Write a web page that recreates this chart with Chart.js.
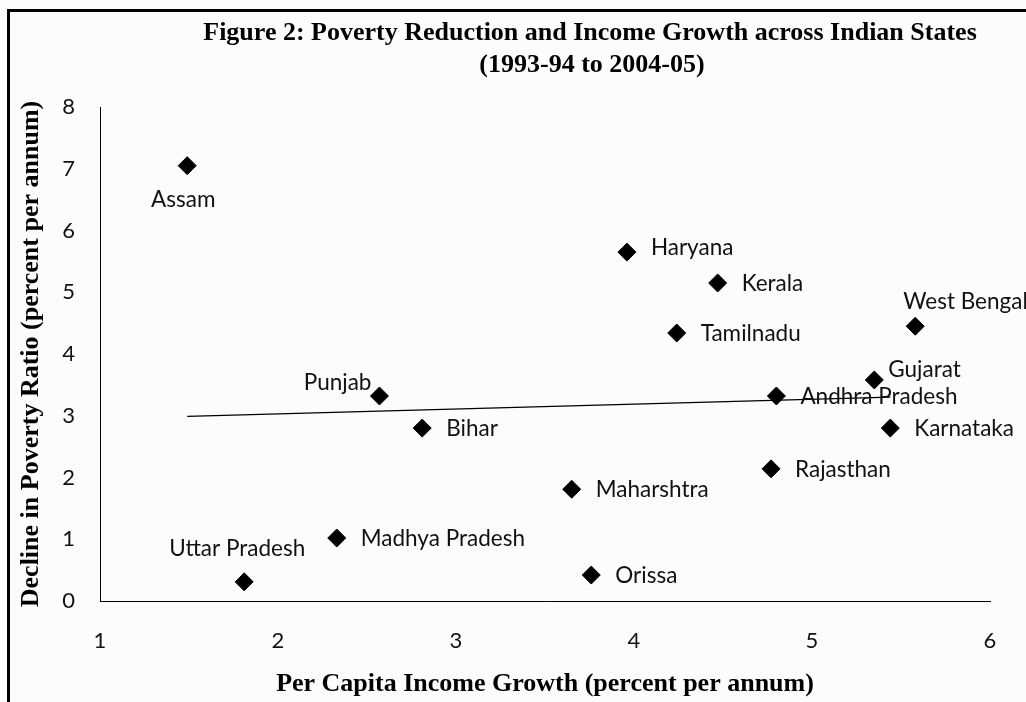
<!DOCTYPE html>
<html>
<head>
<meta charset="utf-8">
<script src="https://cdn.jsdelivr.net/npm/chart.js@4.4.1/dist/chart.umd.min.js"></script>
<style>
    html, body { margin: 0; padding: 0; background: #fcfcfc; }
    #wrap { width: 1026px; height: 702px; }
</style>
</head>
<body>
<div id="wrap"><canvas id="chartStates" width="1026" height="702"></canvas></div>
<script>
// Data
const states = ['Assam', 'Haryana', 'Kerala', 'Tamilnadu', 'West Bengal', 'Gujarat', 'Andhra Pradesh',
    'Punjab', 'Bihar', 'Karnataka', 'Rajasthan', 'Maharshtra', 'Madhya Pradesh', 'Uttar Pradesh', 'Orissa'];
const incomeGrowth = [1.49, 3.96, 4.47, 4.24, 5.58, 5.35, 4.80, 2.57, 2.81, 5.44, 4.77, 3.65, 2.33, 1.81, 3.76];
const povertyDecline = [7.05, 5.65, 5.15, 4.34, 4.45, 3.58, 3.32, 3.32, 2.80, 2.80, 2.14, 1.81, 1.02, 0.31, 0.42];
const trendX = [1.49, 5.44];
const trendY = [2.99, 3.30];
const xTicks = [1, 2, 3, 4, 5, 6];
const yTicks = [0, 1, 2, 3, 4, 5, 6, 7, 8];

// where each state name sits next to its marker
const labelPlacement = {
    'Assam': { dx: -4, dy: 34, align: 'center' },
    'Haryana': { dx: 24, dy: -4, align: 'left' },
    'West Bengal': { dx: -12, dy: -24, align: 'left' },
    'Gujarat': { dx: 14, dy: -10, align: 'left' },
    'Punjab': { dx: -8, dy: -13, align: 'right' },
    'Uttar Pradesh': { dx: -7, dy: -33, align: 'center' }
};
const defaultPlacement = { dx: 24, dy: 1, align: 'left' };

const sansFont = 'Lato';
const serifFont = '"Liberation Serif", "Times New Roman", serif';

const framePlugin = {
    id: 'frame',
    beforeDraw(chart) {
        const ctx = chart.ctx;
        ctx.save();
        ctx.fillStyle = '#fcfcfc';
        ctx.fillRect(0, 0, chart.width, chart.height);
        ctx.fillStyle = '#000';
        ctx.fillRect(7, 9, chart.width - 7, 3);
        ctx.fillRect(7, 9, 3, chart.height - 9);
        ctx.restore();
    },
    afterDraw(chart) {
        const ctx = chart.ctx;
        ctx.save();
        ctx.fillStyle = '#000';
        ctx.font = 'bold 26px ' + serifFont;
        ctx.textAlign = 'center';
        ctx.textBaseline = 'middle';
        ctx.fillText('Figure 2: Poverty Reduction and Income Growth across Indian States', 590, 33);
        ctx.fillText('(1993-94 to 2004-05)', 592, 65);
        ctx.restore();
    }
};

const pointLabelsPlugin = {
    id: 'pointLabels',
    afterDatasetsDraw(chart) {
        const ctx = chart.ctx;
        const meta = chart.getDatasetMeta(0);
        ctx.save();
        ctx.fillStyle = '#111';
        ctx.font = '22.5px ' + sansFont;
        ctx.textBaseline = 'middle';
        meta.data.forEach((pt, i) => {
            const p = labelPlacement[states[i]] || defaultPlacement;
            ctx.textAlign = p.align;
            ctx.fillText(states[i], pt.x + p.dx, pt.y + p.dy);
        });
        ctx.restore();
    }
};

const ctxStates = document.getElementById('chartStates').getContext('2d');
const chartStates = new Chart(ctxStates, {
    type: 'scatter',
    data: {
        datasets: [{
            label: 'States',
            data: incomeGrowth.map((x, i) => ({ x: x, y: povertyDecline[i] })),
            pointStyle: 'rectRot',
            pointRadius: 9,
            pointHoverRadius: 9,
            backgroundColor: '#000',
            borderColor: '#000',
            borderWidth: 1
        }, {
            label: 'Trend',
            type: 'line',
            data: trendX.map((x, i) => ({ x: x, y: trendY[i] })),
            borderColor: '#000',
            borderWidth: 1.3,
            pointRadius: 0,
            fill: false
        }]
    },
    options: {
        responsive: false,
        animation: false,
        events: [],
        layout: { padding: { left: 0, top: 107, right: 36, bottom: 0 } },
        plugins: {
            legend: { display: false },
            tooltip: { enabled: false }
        },
        scales: {
            x: {
                type: 'linear',
                min: 1,
                max: 6,
                afterBuildTicks: s => { s.ticks = xTicks.map(v => ({ value: v })); },
                afterFit: s => { s.height = 101; },
                grid: { display: false, drawTicks: false },
                border: { display: true, color: '#000', width: 1 },
                ticks: { font: { family: sansFont, size: 22 }, color: '#111', padding: 27, maxRotation: 0 },
                title: {
                    display: true,
                    text: 'Per Capita Income Growth (percent per annum)',
                    color: '#000',
                    font: { family: serifFont, size: 26, weight: 'bold' },
                    padding: { top: 0, bottom: 2 }
                }
            },
            y: {
                type: 'linear',
                min: 0,
                max: 8,
                afterBuildTicks: s => { s.ticks = yTicks.map(v => ({ value: v })); },
                afterFit: s => { s.width = 100; },
                grid: { display: false, drawTicks: false },
                border: { display: true, color: '#000', width: 1 },
                ticks: { font: { family: sansFont, size: 22 }, color: '#111', padding: 25 },
                title: {
                    display: true,
                    text: 'Decline in Poverty Ratio (percent per annum)',
                    color: '#000',
                    font: { family: serifFont, size: 26, weight: 'bold' },
                    padding: { top: 16, bottom: 0 }
                }
            }
        }
    },
    plugins: [framePlugin, pointLabelsPlugin]
});
</script>
</body>
</html>
